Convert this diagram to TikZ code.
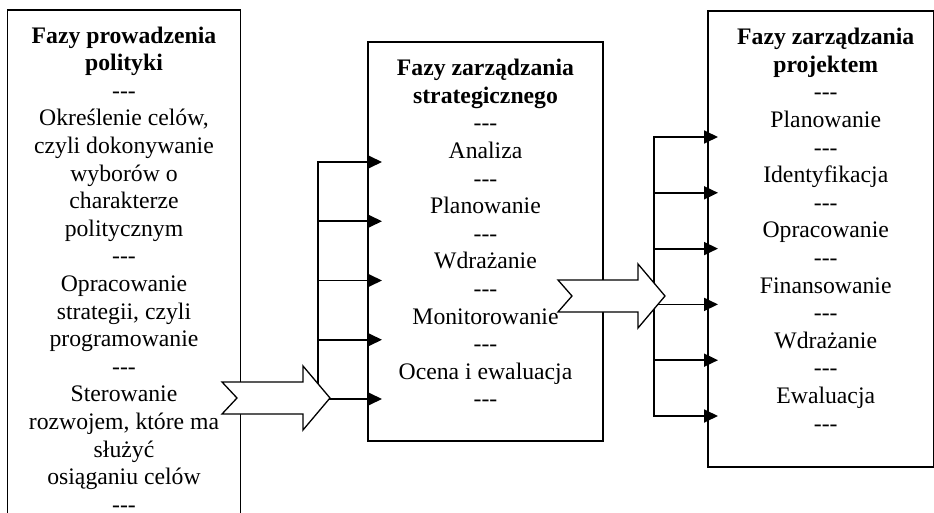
\documentclass[tikz,border=0pt]{standalone}
\usepackage{fontspec}
\setmainfont{Liberation Serif}
\usetikzlibrary{positioning,arrows.meta,calc}
\newcommand{\kreski}{\mbox{-}\mbox{-}\mbox{-}}

\begin{document}
\begin{tikzpicture}[
    x=1pt, y=-1pt,
    font=\fontsize{23.7}{27.6}\selectfont,
    box/.style={
        draw,
        line width=1.3pt,
        anchor=north west,
        inner sep=0pt,
        outer sep=0pt
    },
    txt/.style={align=center, inner sep=0pt, execute at begin node=\strut},
    arrow/.style={-{Triangle[length=14pt,width=13pt]}, line width=1.8pt},
    bus/.style={line width=1.8pt, line cap=rect},
    bigarrow/.style={draw, fill=white, line width=1.3pt, line join=miter}
]
\useasboundingbox (0,0) rectangle (934,513);
\fill[white] (0,0) rectangle (934,513);
\clip (0,0) rectangle (934,513);

% ============================================================
% RAMKI
% ============================================================
\node[box, minimum width=233pt, minimum height=525pt] (polityka) at (7.5,10) {};
\node[box, minimum width=235pt, minimum height=399pt] (strategia) at (368,42) {};
\node[box, minimum width=225.5pt, minimum height=456pt] (projekt) at (708,11) {};

% ============================================================
% TEKSTY
% ============================================================
\node[txt, below=16.5pt of polityka.north] (politykaTxt) {%
    \textbf{Fazy prowadzenia}\\ \textbf{polityki}\\ \kreski\\
    Określenie celów,\\ czyli dokonywanie\\ wyborów o\\ charakterze\\ politycznym\\ \kreski\\
    Opracowanie\\ strategii, czyli\\ programowanie\\ \kreski\\
    Sterowanie\\ rozwojem, które ma\\ służyć\\ osiąganiu celów\\ \kreski};
\node[txt, below=17pt of strategia.north] (strategiaTxt) {%
    \textbf{Fazy zarządzania}\\ \textbf{strategicznego}\\ \kreski\\
    Analiza\\ \kreski\\ Planowanie\\ \kreski\\ Wdrażanie\\ \kreski\\
    Monitorowanie\\ \kreski\\ Ocena i ewaluacja\\ \kreski};
\node[txt, below=17pt of projekt.north, xshift=5pt] (projektTxt) {%
    \textbf{Fazy zarządzania}\\ \textbf{projektem}\\ \kreski\\
    Planowanie\\ \kreski\\ Identyfikacja\\ \kreski\\ Opracowanie\\ \kreski\\
    Finansowanie\\ \kreski\\ Wdrażanie\\ \kreski\\ Ewaluacja\\ \kreski};

% ============================================================
% ROZGALEZIENIA STRZALEK
% ============================================================
\coordinate (busA) at (318,162);
\foreach \i in {0,...,4} {
    \coordinate (sa\i) at ($(busA)+(0,59.25*\i)$);
    \draw[arrow] (sa\i) -- ($(strategia.west |- sa\i)+(14,0)$);
}
\draw[bus] (sa0) -- (sa4);

\coordinate (busB) at (654,137);
\foreach \i in {0,...,5} {
    \coordinate (pb\i) at ($(busB)+(0,55.8*\i)$);
    \draw[arrow] (pb\i) -- ($(projekt.west |- pb\i)+(10,0)$);
}
\draw[bus] (pb0) -- (pb5);

% ============================================================
% DUZE STRZALKI
% ============================================================
\coordinate (tipA) at (330,398);
\draw[bigarrow] (tipA) -- ++(-27,-32) -- ++(0,16) -- ++(-81,0) -- ++(15,16)
    -- ++(-15,16) -- ++(81,0) -- ++(0,16) -- cycle;
\coordinate (tipB) at (665,296);
\draw[bigarrow] (tipB) -- ++(-27,-32) -- ++(0,16) -- ++(-80,0) -- ++(14,16)
    -- ++(-14,16) -- ++(80,0) -- ++(0,16) -- cycle;

\end{tikzpicture}
\end{document}
